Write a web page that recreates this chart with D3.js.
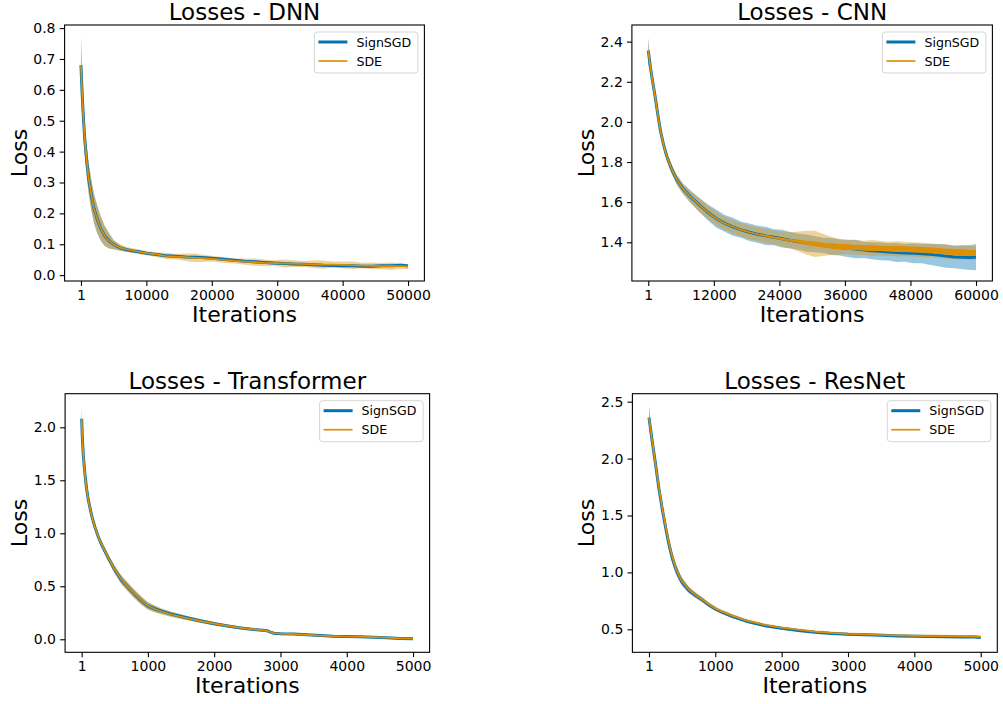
<!DOCTYPE html>
<html>
  <head>
    <meta charset="utf-8">
    <style>
      body { margin: 0; background: #fff; }
      svg { display: block; font-family: "DejaVu Sans", sans-serif; }
      .tick-text { font-size: 14px; fill: #000; }
      .title-text { font-size: 23px; fill: #000; }
      .label-text { font-size: 22px; fill: #000; }
      .legend-text { font-size: 12.6px; fill: #000; }
    </style>
  </head>
  <body>
    <div id="chart"></div>
    <script src="https://d3js.org/d3.v7.min.js"></script>
    <script>
        // ---- data ----
        var titles = ["Losses - DNN", "Losses - CNN", "Losses - Transformer", "Losses - ResNet"];
        var seriesNames = ["SignSGD", "SDE"];

        // DNN
        var dnnIter = [1, 200, 400, 600, 900, 1200, 1600, 2000, 2500, 3000,
            3600, 4300, 5000, 6000, 7000, 8000, 9000, 10000, 11500, 13000,
            14500, 16000, 17500, 19000, 20500, 22000, 23500, 25000, 26500, 28000,
            29500, 31000, 32500, 34000, 35500, 37000, 38500, 40000, 41500, 43000,
            44500, 46000, 47500, 49000, 50000];
        var dnnSignMean = [0.68, 0.58, 0.50, 0.435, 0.365, 0.31, 0.258, 0.215, 0.18, 0.152,
            0.128, 0.111, 0.099, 0.088, 0.082, 0.078, 0.075, 0.071, 0.067, 0.063,
            0.061, 0.059, 0.058, 0.056, 0.054, 0.051, 0.048, 0.045, 0.043, 0.041,
            0.039, 0.038, 0.036, 0.035, 0.034, 0.032, 0.031, 0.030, 0.030, 0.029,
            0.029, 0.030, 0.030, 0.032, 0.030];
        var dnnSignStd = [0.09, 0.06, 0.055, 0.05, 0.05, 0.05, 0.05, 0.048, 0.045, 0.04,
            0.033, 0.025, 0.015, 0.009, 0.006, 0.005, 0.005, 0.004, 0.004, 0.005,
            0.004, 0.004, 0.005, 0.004, 0.004, 0.005, 0.004, 0.004, 0.005, 0.004,
            0.005, 0.004, 0.005, 0.004, 0.004, 0.005, 0.004, 0.005, 0.004, 0.004,
            0.005, 0.004, 0.004, 0.005, 0.005];
        var dnnSdeMean = [0.68, 0.58, 0.50, 0.435, 0.365, 0.31, 0.258, 0.215, 0.18, 0.152,
            0.128, 0.111, 0.099, 0.089, 0.083, 0.079, 0.075, 0.071, 0.067, 0.062,
            0.060, 0.058, 0.056, 0.054, 0.052, 0.049, 0.046, 0.044, 0.042, 0.040,
            0.039, 0.038, 0.037, 0.036, 0.035, 0.034, 0.034, 0.033, 0.032, 0.031,
            0.030, 0.029, 0.029, 0.029, 0.028];
        var dnnSdeStd = [0.09, 0.06, 0.055, 0.05, 0.05, 0.05, 0.05, 0.048, 0.045, 0.04,
            0.033, 0.025, 0.015, 0.01, 0.008, 0.007, 0.008, 0.007, 0.008, 0.010,
            0.009, 0.012, 0.014, 0.011, 0.009, 0.010, 0.008, 0.010, 0.012, 0.011,
            0.009, 0.013, 0.011, 0.010, 0.012, 0.013, 0.010, 0.011, 0.012, 0.009,
            0.011, 0.010, 0.012, 0.009, 0.008];

        // CNN
        var cnnIter = [1, 400, 800, 1200, 1700, 2200, 2800, 3400, 4200, 5200,
            6400, 7800, 9400, 11000, 12500, 14000, 15500, 17000, 18500, 20000,
            21500, 23000, 24500, 26000, 27500, 29000, 30500, 32000, 33500, 35000,
            36500, 38000, 39500, 41000, 42500, 44000, 45500, 47000, 48500, 50000,
            51500, 53000, 54500, 56000, 57500, 59000, 60000];
        var cnnSignMean = [2.355, 2.27, 2.20, 2.135, 2.045, 1.96, 1.885, 1.828, 1.77, 1.712,
            1.665, 1.625, 1.585, 1.547, 1.517, 1.494, 1.477, 1.462, 1.45, 1.44,
            1.432, 1.425, 1.418, 1.41, 1.403, 1.396, 1.39, 1.384, 1.379, 1.374,
            1.37, 1.366, 1.362, 1.358, 1.355, 1.352, 1.349, 1.347, 1.345, 1.343,
            1.34, 1.336, 1.331, 1.327, 1.325, 1.324, 1.326];
        var cnnSignStd = [0.065, 0.02, 0.02, 0.02, 0.02, 0.02, 0.02, 0.022, 0.022, 0.024,
            0.026, 0.03, 0.035, 0.04, 0.045, 0.042, 0.045, 0.04, 0.043, 0.042,
            0.045, 0.04, 0.044, 0.041, 0.04, 0.043, 0.04, 0.038, 0.042, 0.04,
            0.043, 0.045, 0.04, 0.042, 0.045, 0.043, 0.047, 0.044, 0.05, 0.048,
            0.052, 0.055, 0.058, 0.056, 0.06, 0.062, 0.065];
        var cnnSdeMean = [2.355, 2.27, 2.20, 2.135, 2.045, 1.96, 1.885, 1.828, 1.77, 1.712,
            1.665, 1.625, 1.585, 1.547, 1.517, 1.494, 1.477, 1.462, 1.45, 1.44,
            1.432, 1.424, 1.416, 1.41, 1.404, 1.398, 1.392, 1.386, 1.382, 1.378,
            1.376, 1.374, 1.372, 1.371, 1.37, 1.368, 1.367, 1.366, 1.364, 1.362,
            1.36, 1.357, 1.354, 1.351, 1.349, 1.347, 1.346];
        var cnnSdeStd = [0.065, 0.02, 0.02, 0.02, 0.02, 0.02, 0.02, 0.022, 0.022, 0.024,
            0.026, 0.03, 0.035, 0.035, 0.035, 0.033, 0.035, 0.033, 0.035, 0.034,
            0.036, 0.035, 0.038, 0.04, 0.05, 0.06, 0.065, 0.055, 0.045, 0.04,
            0.035, 0.038, 0.036, 0.04, 0.037, 0.035, 0.038, 0.036, 0.035, 0.037,
            0.035, 0.034, 0.036, 0.033, 0.035, 0.034, 0.033];
        // half-height of the dense wiggle of the SDE line itself
        var cnnSdeJitter = [0, 0, 0, 0, 0, 0, 0, 0, 0, 0,
            0, 0, 0, 0, 0, 0, 0, 0, 0.002, 0.003,
            0.004, 0.005, 0.005, 0.006, 0.008, 0.01, 0.012, 0.012, 0.013, 0.013,
            0.014, 0.013, 0.014, 0.014, 0.013, 0.014, 0.015, 0.014, 0.015, 0.014,
            0.015, 0.015, 0.014, 0.015, 0.016, 0.015, 0.015];

        // Transformer
        var trfIter = [1, 10, 25, 50, 75, 100, 150, 200, 250, 300,
            400, 500, 600, 700, 800, 900, 1000, 1100, 1200, 1350,
            1500, 1650, 1800, 2000, 2200, 2400, 2600, 2800, 2850, 2900,
            3000, 3200, 3400, 3600, 3800, 4000, 4200, 4400, 4600, 4800, 5000];
        var trfSignMean = [2.08, 1.92, 1.74, 1.56, 1.42, 1.32, 1.17, 1.06, 0.97, 0.895,
            0.77, 0.655, 0.56, 0.49, 0.425, 0.365, 0.315, 0.288, 0.265, 0.237,
            0.215, 0.193, 0.172, 0.147, 0.126, 0.107, 0.092, 0.08, 0.068, 0.057,
            0.053, 0.049, 0.043, 0.035, 0.028, 0.025, 0.023, 0.02, 0.014, 0.008, 0.004];
        var trfSignStd = [0.12, 0.03, 0.025, 0.02, 0.02, 0.02, 0.02, 0.022, 0.025, 0.028,
            0.032, 0.036, 0.04, 0.04, 0.04, 0.038, 0.035, 0.03, 0.025, 0.022,
            0.02, 0.018, 0.016, 0.015, 0.013, 0.012, 0.01, 0.01, 0.009, 0.009,
            0.009, 0.008, 0.009, 0.008, 0.008, 0.009, 0.008, 0.008, 0.008, 0.009, 0.01];
        var trfSdeMean = [2.08, 1.92, 1.74, 1.56, 1.42, 1.32, 1.17, 1.06, 0.972, 0.898,
            0.773, 0.658, 0.563, 0.492, 0.428, 0.366, 0.316, 0.286, 0.262, 0.234,
            0.212, 0.191, 0.171, 0.147, 0.127, 0.108, 0.093, 0.08, 0.068, 0.058,
            0.054, 0.049, 0.042, 0.035, 0.029, 0.026, 0.024, 0.021, 0.015, 0.009, 0.005];
        var trfSdeStd = [0.12, 0.03, 0.025, 0.02, 0.02, 0.02, 0.02, 0.022, 0.025, 0.028,
            0.032, 0.036, 0.04, 0.042, 0.04, 0.04, 0.036, 0.032, 0.028, 0.025,
            0.022, 0.02, 0.02, 0.018, 0.014, 0.012, 0.01, 0.01, 0.009, 0.008,
            0.008, 0.008, 0.008, 0.008, 0.009, 0.008, 0.008, 0.009, 0.008, 0.008, 0.009];

        // ResNet
        var resIter = [1, 50, 100, 150, 200, 250, 300, 350, 400, 450,
            500, 600, 700, 800, 900, 1000, 1100, 1250, 1400, 1500,
            1750, 2000, 2250, 2500, 2750, 3000, 3250, 3500, 3750, 4000,
            4250, 4500, 4750, 4900, 5000];
        var resSignMean = [2.36, 2.15, 1.95, 1.74, 1.56, 1.40, 1.25, 1.13, 1.04, 0.97,
            0.915, 0.845, 0.80, 0.76, 0.715, 0.678, 0.65, 0.615, 0.585, 0.567,
            0.532, 0.509, 0.49, 0.474, 0.464, 0.456, 0.452, 0.447, 0.442, 0.438,
            0.436, 0.435, 0.432, 0.433, 0.428];
        var resSignStd = [0.105, 0.03, 0.03, 0.035, 0.04, 0.045, 0.05, 0.05, 0.045, 0.04,
            0.035, 0.028, 0.022, 0.02, 0.018, 0.016, 0.014, 0.012, 0.012, 0.011,
            0.01, 0.01, 0.01, 0.009, 0.009, 0.008, 0.009, 0.008, 0.009, 0.008,
            0.008, 0.009, 0.008, 0.009, 0.01];
        var resSdeMean = [2.36, 2.15, 1.95, 1.75, 1.57, 1.41, 1.26, 1.14, 1.045, 0.975,
            0.92, 0.85, 0.803, 0.762, 0.72, 0.682, 0.655, 0.62, 0.59, 0.572,
            0.538, 0.514, 0.496, 0.48, 0.468, 0.46, 0.456, 0.45, 0.446, 0.442,
            0.44, 0.44, 0.438, 0.436, 0.434];
        var resSdeStd = [0.105, 0.03, 0.03, 0.035, 0.04, 0.045, 0.05, 0.05, 0.045, 0.04,
            0.035, 0.028, 0.024, 0.022, 0.02, 0.02, 0.02, 0.018, 0.016, 0.014,
            0.014, 0.013, 0.012, 0.012, 0.013, 0.012, 0.011, 0.012, 0.013, 0.012,
            0.014, 0.013, 0.012, 0.013, 0.012];

        // tick labels
        var dnnXTicks = [1, 10000, 20000, 30000, 40000, 50000];
        var cnnXTicks = [1, 12000, 24000, 36000, 48000, 60000];
        var shortXTicks = [1, 1000, 2000, 3000, 4000, 5000];
        var dnnYTicks = [0.0, 0.1, 0.2, 0.3, 0.4, 0.5, 0.6, 0.7, 0.8];
        var cnnYTicks = [1.4, 1.6, 1.8, 2.0, 2.2, 2.4];
        var trfYTicks = [0.0, 0.5, 1.0, 1.5, 2.0];
        var resYTicks = [0.5, 1.0, 1.5, 2.0, 2.5];

        // ---- layout ----
        var width = 1003, height = 704;
        var signColor = "#0173B2", sdeColor = "#DE8F05";

        var panels = [
            {iter: dnnIter, sm: dnnSignMean, ss: dnnSignStd, dm: dnnSdeMean, ds: dnnSdeStd,
             xt: dnnXTicks, yt: dnnYTicks, yDom: [-0.019, 0.81], box: [64.6, 424.4, 25, 281]},
            {iter: cnnIter, sm: cnnSignMean, ss: cnnSignStd, dm: cnnSdeMean, ds: cnnSdeStd, dj: cnnSdeJitter,
             xt: cnnXTicks, yt: cnnYTicks, yDom: [1.207, 2.483], box: [631.9, 992.4, 25, 281]},
            {iter: trfIter, sm: trfSignMean, ss: trfSignStd, dm: trfSdeMean, ds: trfSdeStd,
             xt: shortXTicks, yt: trfYTicks, yDom: [-0.123, 2.317], box: [65.1, 429.6, 393.7, 652.3]},
            {iter: resIter, sm: resSignMean, ss: resSignStd, dm: resSdeMean, ds: resSdeStd,
             xt: shortXTicks, yt: resYTicks, yDom: [0.298, 2.570], box: [632.4, 997.3, 393.7, 652.3]}
        ];

        var svg = d3.select("#chart")
        .append("svg")
        .attr("width", width)
        .attr("height", height);

        svg.append("rect").attr("width", width).attr("height", height).attr("fill", "#fff");

        panels.forEach(function(p, k) {
            var l = p.box[0], r = p.box[1], t = p.box[2], b = p.box[3];
            var x0 = d3.min(p.iter), x1 = d3.max(p.iter), pad = (x1 - x0) * 0.05;
            var x = d3.scaleLinear().domain([x0 - pad, x1 + pad]).range([l, r]);
            var y = d3.scaleLinear().domain(p.yDom).range([b, t]);

            var rows = p.iter.map(function(it, i) {
                return {it: it, sm: p.sm[i], ss: p.ss[i], dm: p.dm[i], ds: p.ds[i],
                        dj: p.dj ? p.dj[i] : 0};
            });

            var clipId = "clip" + k;
            svg.append("clipPath").attr("id", clipId)
            .append("rect").attr("x", l).attr("y", t).attr("width", r - l).attr("height", b - t);

            var g = svg.append("g").attr("clip-path", "url(#" + clipId + ")");

            var signBand = d3.area()
            .x(function(d) { return x(d.it); })
            .y0(function(d) { return y(d.sm - d.ss); })
            .y1(function(d) { return y(d.sm + d.ss); });
            var sdeBand = d3.area()
            .x(function(d) { return x(d.it); })
            .y0(function(d) { return y(d.dm - d.ds); })
            .y1(function(d) { return y(d.dm + d.ds); });
            var sdeWiggle = d3.area()
            .x(function(d) { return x(d.it); })
            .y0(function(d) { return y(d.dm - d.dj); })
            .y1(function(d) { return y(d.dm + d.dj); });
            var signLine = d3.line()
            .x(function(d) { return x(d.it); })
            .y(function(d) { return y(d.sm); });
            var sdeLine = d3.line()
            .x(function(d) { return x(d.it); })
            .y(function(d) { return y(d.dm); });

            g.append("path").attr("d", signBand(rows)).attr("fill", signColor).attr("fill-opacity", 0.4);
            g.append("path").attr("d", sdeBand(rows)).attr("fill", sdeColor).attr("fill-opacity", 0.4);
            g.append("path").attr("d", signLine(rows)).attr("fill", "none")
            .attr("stroke", signColor).attr("stroke-width", 3);
            if (p.dj) {
                g.append("path").attr("d", sdeWiggle(rows)).attr("fill", sdeColor);
            }
            g.append("path").attr("d", sdeLine(rows)).attr("fill", "none")
            .attr("stroke", sdeColor).attr("stroke-width", 1.7);

            // axes
            var xAxis = d3.axisBottom(x).tickValues(p.xt).tickSize(4.9).tickPadding(4.2)
            .tickFormat(d3.format("d"));
            var yAxis = d3.axisLeft(y).tickValues(p.yt).tickSize(4.9).tickPadding(4.2)
            .tickFormat(d3.format(".1f"));

            var gx = svg.append("g").attr("transform", "translate(0," + b + ")").call(xAxis);
            var gy = svg.append("g").attr("transform", "translate(" + l + ",0)").call(yAxis);
            [gx, gy].forEach(function(ax) {
                ax.attr("font-family", null).attr("font-size", null);
                ax.select(".domain").remove();
                ax.selectAll(".tick line").attr("stroke", "#000").attr("stroke-width", 1.1);
                ax.selectAll(".tick text").attr("class", "tick-text");
            });

            svg.append("rect").attr("x", l).attr("y", t).attr("width", r - l).attr("height", b - t)
            .attr("fill", "none").attr("stroke", "#000").attr("stroke-width", 1.1);

            // texts
            svg.append("text").attr("class", "title-text").attr("text-anchor", "middle")
            .attr("x", (l + r) / 2).attr("y", t - 5).text(titles[k]);
            svg.append("text").attr("class", "label-text").attr("text-anchor", "middle")
            .attr("x", (l + r) / 2).attr("y", b + 41).text("Iterations");
            svg.append("text").attr("class", "label-text").attr("text-anchor", "middle")
            .attr("transform", "translate(" + (l - 38) + "," + ((t + b) / 2) + ") rotate(-90)")
            .text("Loss");

            // legend
            var lw = 103.5, lh = 41;
            var lg = svg.append("g").attr("transform", "translate(" + (r - 6.5 - lw) + "," + (t + 7) + ")");
            lg.append("rect").attr("width", lw).attr("height", lh).attr("rx", 3)
            .attr("fill", "#fff").attr("fill-opacity", 0.8).attr("stroke", "#d5d5d5").attr("stroke-width", 1);
            seriesNames.forEach(function(name, i) {
                var yy = 10 + i * 19;
                lg.append("line").attr("x1", 4).attr("x2", 33).attr("y1", yy).attr("y2", yy)
                .attr("stroke", i === 0 ? signColor : sdeColor).attr("stroke-width", i === 0 ? 3 : 1.7);
                lg.append("text").attr("class", "legend-text").attr("x", 42).attr("y", yy + 4.5).text(name);
            });
        });
    </script>
  </body>
</html>
